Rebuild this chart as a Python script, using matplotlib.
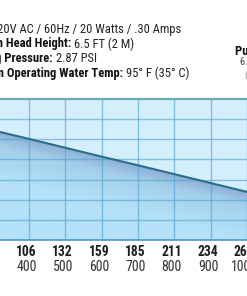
import numpy as np
import matplotlib
matplotlib.use("Agg")
import matplotlib.pyplot as plt
from matplotlib.colors import to_rgb
import matplotlib.transforms as mtransforms

# ---- data ----
flow_lph = [300, 400, 500, 600, 700, 800, 900, 1000, 1100]
head_ft = [5.45, 5.02, 4.58, 4.14, 3.71, 3.27, 2.83, 2.39, 1.95]
tick_lph = [400, 500, 600, 700, 800, 900, 1000]
tick_gph = ["106", "132", "159", "185", "211", "234", "264"]
head_grid = [1, 2, 3, 4, 5, 6]

spec_bold = ["Voltage:", "Maximum Head Height:", "Operating Pressure:",
             "Maximum Operating Water Temp:"]
spec_text = ["120V AC / 60Hz / 20 Watts / .30 Amps", "6.5 FT (2 M)",
             "2.87 PSI", "95° F (35° C)"]
right_lines = ["Pump Dimensions:", "6.5\" x 4.5\" x 5\"", "(165 x 114 x 127 mm)"]

FONT = ["Roboto Condensed", "DejaVu Sans"]

W, H = 247, 296
fig = plt.figure(figsize=(W / 100, H / 100), dpi=100)
fig.patch.set_facecolor("white")

ax_l, ax_r = 0 / W, 247 / W
ax_b, ax_t = (H - 240) / H, (H - 99) / H
ax = fig.add_axes([ax_l, ax_b, ax_r - ax_l, ax_t - ax_b])
x0, x1 = 320.4, 1000.5
ax.set_xlim(x0, x1)
ax.set_ylim(0, 7)
ax.set_facecolor("#d5eefb")

# gradient fill under the curve
nx, ny = 400, 300
xs = np.linspace(x0, x1, nx)
ys = np.linspace(0, 7, ny)
X, Y = np.meshgrid(xs, ys)
L = np.interp(X, flow_lph, head_ft)
d = L - Y
t = np.clip(d / 2.4, 0, 1)[..., None]
dark = np.array(to_rgb("#8eaed6"))
mid = np.array(to_rgb("#a3cfe9"))
light = np.array(to_rgb("#b5e1f8"))
t2 = np.clip(t / 0.3, 0, 1)
t3 = np.clip((t - 0.3) / 0.7, 0, 1)
rgb = np.where(t < 0.3, dark * (1 - t2) + mid * t2, mid * (1 - t3) + light * t3)
alpha = (d >= 0).astype(float)[..., None]
img = np.concatenate([rgb, alpha], axis=2)
ax.imshow(img, extent=[x0, x1, 0, 7], origin="lower", aspect="auto",
          interpolation="bilinear", zorder=1)

# grid
for v in tick_lph:
    ax.axvline(v, color="#4aa3d3", alpha=0.6, lw=1.0, zorder=2)
for h in head_grid:
    ax.axhline(h, color="#4aa3d3", alpha=0.6, lw=1.0, zorder=2)
ax.axhline(0, color="#3f93c4", alpha=0.8, lw=1.4, zorder=2, clip_on=False)
ax.axhline(7, color="#6aa9b5", lw=1.6, zorder=3, clip_on=False)

# curve
ax.plot(flow_lph, head_ft, color="#2a6e8b", lw=1.5, zorder=4,
        solid_capstyle="butt")

for s in ax.spines.values():
    s.set_visible(False)
ax.set_xticks([])
ax.set_yticks([])

# x labels (two rows)
off = mtransforms.ScaledTranslation(-2.5 / 100, 0, fig.dpi_scale_trans)
tr = mtransforms.blended_transform_factory(ax.transData, fig.transFigure) + off
for v, g in zip(tick_lph, tick_gph):
    ax.text(v, (H - 252) / H, g, transform=tr, ha="center", va="center",
            fontsize=9.8, fontweight="bold", family=FONT, color="#1e1e1e")
    ax.text(v, (H - 267) / H, f"{v}", transform=tr, ha="center", va="center",
            fontsize=10, family=FONT, color="#333333")

# spec lines: normal part right-aligned at measured end, bold part before it
ends = [181, 134, 97, 189]
ycent = [29, 44, 58.5, 73]
for b, n, xe, yc in zip(spec_bold, spec_text, ends, ycent):
    tn = fig.text(xe / W, (H - yc) / H, n, ha="right", va="center",
                  fontsize=9.0, family=FONT, color="#222222")
    ax.annotate(b + " ", xy=(0, 0.5), xycoords=tn, ha="right", va="center",
                fontsize=9.0, fontweight="bold", family=FONT, color="#111111",
                annotation_clip=False)

# right column (cut off)
fig.text(235 / W, (H - 51) / H, right_lines[0], ha="left", va="center",
         fontsize=9.0, fontweight="bold", family=FONT, color="#111111")
fig.text(240 / W, (H - 62) / H, right_lines[1], ha="left", va="center",
         fontsize=7.5, family=FONT, color="#444444")
fig.text(244.5 / W, (H - 75) / H, right_lines[2], ha="left", va="center",
         fontsize=6.5, family=FONT, color="#888888")

fig.savefig("out.png", dpi=100, facecolor="white")
